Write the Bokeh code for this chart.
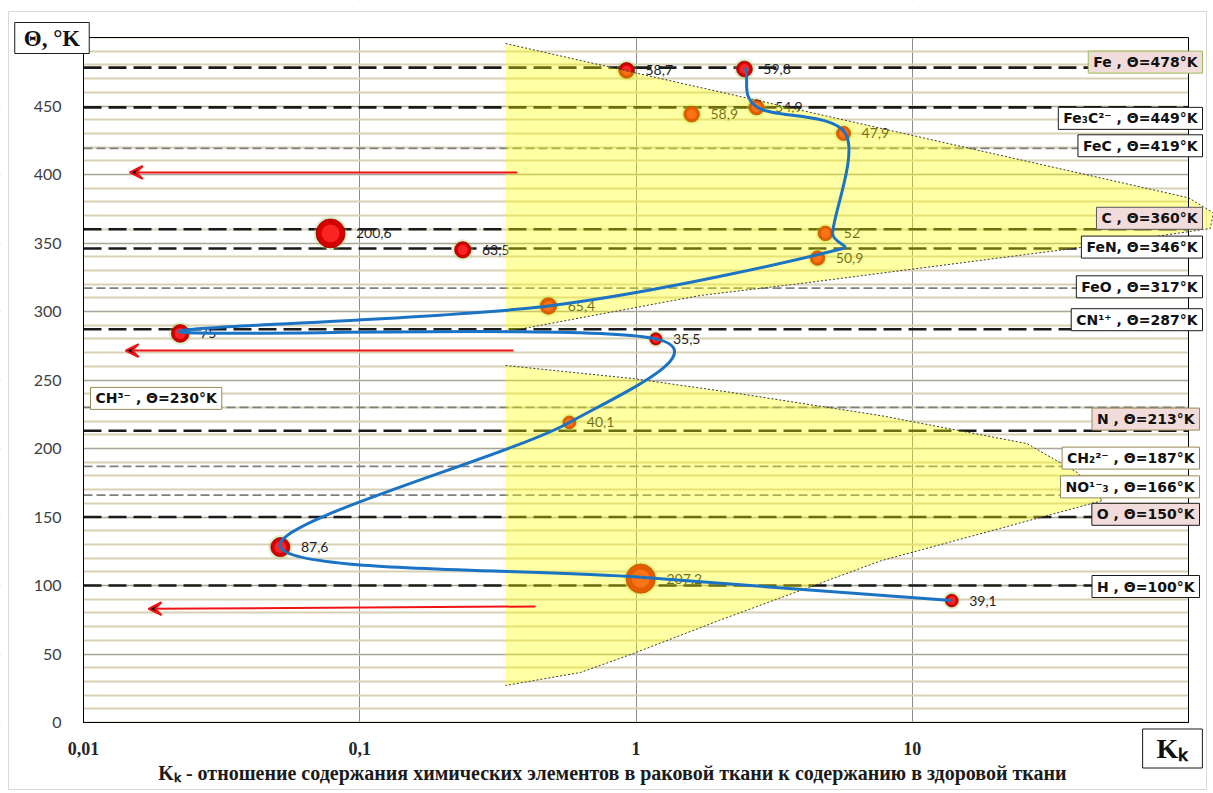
import math
from bokeh.plotting import figure
from bokeh.models import Range1d, FixedTicker, Label, Arrow, VeeHead, ColumnDataSource
from bokeh.core.properties import value
from bokeh.embed import file_html
from bokeh.resources import INLINE

# Bubbles: Kk ratio, Debye temperature Θ (°K), bubble value
bubble_kk = [0.925, 2.47, 2.73, 1.59, 5.64, 4.85, 4.54, 0.0784, 0.236, 0.482,
             0.0224, 1.18, 0.574, 0.0516, 1.04, 13.9]
bubble_theta = [476, 477, 449, 444, 430, 357, 339, 357, 345, 304,
                284, 280, 219, 128, 105, 89]
bubble_size = [58.7, 59.8, 54.9, 58.9, 47.9, 52, 50.9, 200.6, 63.5, 65.4,
               75, 35.5, 40.1, 87.6, 207.2, 39.1]

# Nodes of the smoothed trend line
trend_kk = [2.49, 2.75, 5.73, 5.15, 5.6, 0.482, 0.0224, 1.18, 0.574, 0.0516, 1.04, 13.9]
trend_theta = [478, 449, 430, 357, 346, 304, 285, 280, 219, 128, 106, 89]

# Reference levels of compounds / elements
level_names = ["Fe ,", "Fe₃C²⁻ ,", "FeC ,", "C ,", "FeN,", "FeO ,", "CN¹⁺ ,",
               "CH³⁻ ,", "N ,", "CH₂²⁻ ,", "NO¹⁻₃ ,", "O ,", "H ,"]
level_theta = [478, 449, 419, 360, 346, 317, 287, 230, 213, 187, 166, 150, 100]
level_kind = ["main", "main", "minor", "main", "main", "minor", "main",
              "minor", "main", "minor", "minor", "main", "main"]

# Shaded zones (outline order, left edge closes the shape)
upper_zone_kk = [0.337, 100, 123, 120, 40.6, 3.94, 1.71, 0.392, 0.337]
upper_zone_theta = [495.6, 383, 372, 360.6, 346.7, 320.4, 311.7, 287.6, 286]
lower_zone_kk = [0.337, 0.98, 2.2, 7.7, 26, 39.6, 48.8, 7.7, 2.0, 0.98, 0.63, 0.337]
lower_zone_theta = [260.6, 251, 241, 224, 203.6, 182.5, 162, 118, 74.5, 50.4, 36.5, 27]

# Arrows pointing to low Kk
arrow_from_kk = [0.372, 0.36, 0.433]
arrow_to_kk = [0.0147, 0.0142, 0.0172]
arrow_from_theta = [401.5, 271.5, 84.7]
arrow_to_theta = [401.5, 271.5, 83.0]

x_ticks = [0.01, 0.1, 1, 10, 100]
x_tick_labels = ["0,01", "0,1", "1", "10", ""]
y_ticks = [0, 50, 100, 150, 200, 250, 300, 350, 400, 450]
y_minor = list(range(0, 501, 10))

# ---- canvas geometry: the plot area sits inside a full-canvas frame ----
W, H = 1213, 793
FL, FR, FT, FB = 83, 1188, 37, 722
X0, X1, Y0, Y1 = 0.01, 100, 0, 500
PX_DEC = (FR - FL) / math.log10(X1 / X0)
PX_UNIT = (FB - FT) / (Y1 - Y0)


def kk_at(px):
    return X0 * 10 ** ((px - FL) / PX_DEC)


def theta_at(py):
    return Y0 + (FB - py) / PX_UNIT


def fmt(v):
    s = f"{v:.1f}"
    if s.endswith(".0"):
        s = s[:-2]
    return s.replace(".", ",")


p = figure(width=W, height=H, x_axis_type="log",
           x_range=Range1d(kk_at(0), kk_at(W)), y_range=Range1d(theta_at(H), theta_at(0)),
           output_backend="svg", toolbar_location=None,
           min_border_left=0, min_border_right=0, min_border_top=0, min_border_bottom=0)
p.background_fill_color = "white"
p.border_fill_color = "white"
p.outline_line_color = None

# axes float at the plot-area edges
p.xaxis.fixed_location = Y0
p.xaxis.bounds = (X0, X1)
p.yaxis.fixed_location = X0
p.yaxis.bounds = (Y0, Y1)
p.xaxis.ticker = FixedTicker(ticks=x_ticks)
p.xaxis.major_label_overrides = {t: l for t, l in zip(x_ticks, x_tick_labels)}
p.yaxis.ticker = FixedTicker(ticks=y_ticks, minor_ticks=y_minor)
for ax in (p.xaxis, p.yaxis):
    ax.axis_line_color = "black"
    ax.major_tick_line_color = None
    ax.minor_tick_line_color = None
p.yaxis.major_label_text_font = "Lato"
p.yaxis.major_label_text_font_size = "16px"
p.yaxis.major_label_text_color = "#404040"
p.yaxis.major_label_standoff = 16
p.xaxis.major_label_text_font = "Liberation Serif"
p.xaxis.major_label_text_font_style = "bold"
p.xaxis.major_label_text_font_size = "18px"
p.xaxis.major_label_text_color = "#262626"
p.xaxis.major_label_standoff = 13

p.xgrid.grid_line_color = "#8c8c8c"
p.xgrid.grid_line_width = 1
p.ygrid.grid_line_color = "#a6a6a6"
p.ygrid.grid_line_width = 1
p.ygrid.minor_grid_line_color = "#d8d1b5"
p.ygrid.minor_grid_line_width = 2

# white margins around the plot area hide grid lines outside it
xl, xr = kk_at(0), kk_at(W)
yb, yt = theta_at(H), theta_at(0)
p.quad(left=[xl, X1, xl, xl], right=[X0, xr, xr, xr],
       bottom=[yb, yb, Y1, yb], top=[yt, yt, yt, Y0],
       fill_color="white", line_color=None)
# light chart border
p.quad(left=kk_at(8), right=kk_at(1206), bottom=theta_at(789), top=theta_at(11),
       fill_color=None, line_color="#d9d9d9", line_width=1)

# horizontal reference levels
main_y = [t for t, k in zip(level_theta, level_kind) if k == "main"]
minor_y = [t for t, k in zip(level_theta, level_kind) if k == "minor"]
p.segment(x0=X0, y0=main_y, x1=X1, y1=main_y, line_color="#1a1a1a",
          line_width=2.6, line_dash="18 7")
p.segment(x0=X0, y0=minor_y, x1=X1, y1=minor_y, line_color="#7f7f7f",
          line_width=1.8, line_dash="9 4")

# bubbles
dia = [2.04 * math.sqrt(s) for s in bubble_size]
bsrc = ColumnDataSource(dict(
    x=bubble_kk, y=bubble_theta, d=dia,
    glow=[d + 5 for d in dia], core=[d * 0.62 for d in dia],
    lbl=[fmt(s) for s in bubble_size], dx=[d / 2 + 11 for d in dia]))
p.scatter("x", "y", size="glow", source=bsrc, fill_color="#92d050",
          fill_alpha=0.3, line_color=None)
p.scatter("x", "y", size="d", source=bsrc, fill_color="#d40000",
          line_color="#a00000", line_width=0.8)
p.scatter("x", "y", size="core", source=bsrc, fill_color="#ff2a2a",
          fill_alpha=0.85, line_color=None)
p.text("x", "y", text="lbl", x_offset="dx", source=bsrc,
       text_baseline="middle", text_align="left",
       text_font=value("Lato"), text_font_size="14px", text_color="#1e1e28")

# shaded zones drawn over the bubbles
zones_x = [upper_zone_kk, lower_zone_kk]
zones_y = [upper_zone_theta, lower_zone_theta]
p.patches(xs=zones_x, ys=zones_y, fill_color="#ffff00", fill_alpha=0.36,
          line_color=None)
p.multi_line(xs=zones_x, ys=zones_y, line_color="#3a3a3a", line_width=1,
             line_dash="2 2")

# plot-area top and right border
p.quad(left=X0, right=X1, bottom=Y0, top=Y1, fill_color=None,
       line_color="black", line_width=1)

# smooth trend: cubic Bezier segments built from the nodes in screen proportions
u = [math.log10(k) * PX_DEC for k in trend_kk]
v = [t * PX_UNIT for t in trend_theta]
n = len(u)
tan = []
for i in range(n):
    a = max(i - 1, 0)
    b = min(i + 1, n - 1)
    f = 6.0 if 0 < i < n - 1 else 3.0
    tan.append(((u[b] - u[a]) / f, (v[b] - v[a]) / f))


def clamp(t, seg):
    ln = math.hypot(*t)
    lim = 0.5 * seg
    s = 1.0 if ln <= lim or ln == 0 else lim / ln
    return t[0] * s, t[1] * s


bz = dict(x0=[], y0=[], x1=[], y1=[], cx0=[], cy0=[], cx1=[], cy1=[])
for i in range(n - 1):
    seg = math.hypot(u[i + 1] - u[i], v[i + 1] - v[i])
    ta = clamp(tan[i], seg)
    tb = clamp(tan[i + 1], seg)
    pts = [(u[i], v[i]), (u[i] + ta[0], v[i] + ta[1]),
           (u[i + 1] - tb[0], v[i + 1] - tb[1]), (u[i + 1], v[i + 1])]
    kx = [10 ** (q[0] / PX_DEC) for q in pts]
    ky = [q[1] / PX_UNIT for q in pts]
    bz["x0"].append(kx[0]); bz["y0"].append(ky[0])
    bz["cx0"].append(kx[1]); bz["cy0"].append(ky[1])
    bz["cx1"].append(kx[2]); bz["cy1"].append(ky[2])
    bz["x1"].append(kx[3]); bz["y1"].append(ky[3])
p.bezier(x0="x0", y0="y0", x1="x1", y1="y1", cx0="cx0", cy0="cy0",
         cx1="cx1", cy1="cy1", source=ColumnDataSource(bz),
         line_color="#1b73c4", line_width=3)

# arrows
asrc = ColumnDataSource(dict(xs=arrow_from_kk, ys=arrow_from_theta,
                             xe=arrow_to_kk, ye=arrow_to_theta))
p.add_layout(Arrow(end=VeeHead(size=13, line_color="#f01414", line_width=2),
                   x_start="xs", y_start="ys", x_end="xe", y_end="ye",
                   source=asrc, line_color="#f01414", line_width=2))

# level labels: (side, box edge px, vertical shift px, fill, border)
label_style = [
    ("r", 1202, 5.5, "#f2dcdb", "#9bbb59"),
    ("r", 1202, -11, "white", "#1a1a1a"),
    ("r", 1202, 2.7, "white", "#1a1a1a"),
    ("r", 1202, 11, "#f2dcdb", "#595959"),
    ("r", 1202, 1.4, "white", "#1a1a1a"),
    ("r", 1202, 1.4, "white", "#1a1a1a"),
    ("r", 1202, 9.6, "white", "#1a1a1a"),
    ("l", 90, 9, "white", "#948a54"),
    ("r", 1199, 11.6, "#f2dcdb", "#948a54"),
    ("r", 1199, 8.2, "white", "#948a54"),
    ("r", 1199, 8.2, "white", "#948a54"),
    ("r", 1199, 2.7, "#f2dcdb", "#1a1a1a"),
    ("r", 1199, -1, "white", "#1a1a1a"),
]
PAD = dict(left=5, right=5, top=3, bottom=3)
for name, th, (side, xpx, dy, fill, border) in zip(level_names, level_theta, label_style):
    txt = f"{name} Θ={th}°K"
    common = dict(x=kk_at(xpx), y=th, text=txt,
                  text_align="right" if side == "r" else "left",
                  text_baseline="middle", text_font="DejaVu Sans",
                  text_font_style="bold", text_font_size="14px", padding=PAD)
    p.add_layout(Label(**common, x_offset=3, y_offset=dy - 3, text_alpha=0,
                       background_fill_color="#9bbb59",
                       background_fill_alpha=0.55))
    p.add_layout(Label(**common, y_offset=dy, text_color="#111111",
                       background_fill_color=fill, border_line_color=border,
                       border_line_width=1))

# axis caption boxes
theta_box = dict(x=kk_at(51.5), y=theta_at(37.5), text="Θ, °K",
                 text_align="center", text_baseline="middle",
                 text_font="Liberation Serif", text_font_style="bold",
                 text_font_size="23px", padding=dict(left=9, right=9, top=3, bottom=3))
p.add_layout(Label(**theta_box, x_offset=3, y_offset=-3, text_alpha=0,
                   background_fill_color="#7f7f7f", background_fill_alpha=0.5))
p.add_layout(Label(**theta_box, text_color="#111111", background_fill_color="white",
                   border_line_color="#1a1a1a"))

kk_box = dict(x=kk_at(1172), y=theta_at(748), text="Kₖ",
              text_align="center", text_baseline="middle",
              text_font="Liberation Serif", text_font_style="bold",
              text_font_size="28px", padding=dict(left=14, right=14, top=4, bottom=4))
p.add_layout(Label(**kk_box, x_offset=3, y_offset=-3, text_alpha=0,
                   background_fill_color="#7f7f7f", background_fill_alpha=0.5))
p.add_layout(Label(**kk_box, text_color="#111111", background_fill_color="white",
                   border_line_color="#1a1a1a"))

p.add_layout(Label(x=kk_at(617), y=theta_at(772),
                   text="Kₖ  - отношение содержания  химических элементов в раковой ткани к содержанию в здоровой ткани",
                   text_align="center", text_baseline="middle",
                   text_font="Liberation Serif", text_font_style="bold",
                   text_font_size="20px", text_color="#1a1a1a"))

open("out.html", "w").write(file_html(p, INLINE))
